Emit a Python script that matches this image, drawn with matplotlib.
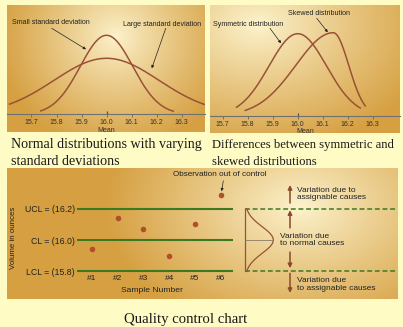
import numpy as np
import matplotlib
matplotlib.use('Agg')
import matplotlib.pyplot as plt
from matplotlib.transforms import blended_transform_factory

plt.rcParams['font.family'] = ['Liberation Sans', 'DejaVu Sans']

# ---------------- data ----------------
mean_ticks = [15.7, 15.8, 15.9, 16.0, 16.1, 16.2, 16.3]

# panel 1: normal distributions (mean, sd, relative peak height, drawn range)
small_mean, small_sd, small_peak = 16.0, 0.105, 79
small_range = (15.737, 16.267)
large_mean, large_sd, large_peak = 16.0, 0.21, 56
large_range = (15.612, 16.394)

# panel 2: symmetric vs skewed (split-normal) distributions
sym_mean, sym_sd, sym_peak = 16.0, 0.115, 82
sym_range = (15.755, 16.25)
skew_mode, skew_sd_left, skew_sd_right, skew_peak = 16.142, 0.15, 0.062, 83
skew_range = (15.79, 16.27)

# panel 3: quality control chart
samples = ['#1', '#2', '#3', '#4', '#5', '#6']
sample_means = [15.94, 16.138, 16.072, 15.898, 16.102, 16.285]
UCL, CL, LCL = 16.2, 16.0, 15.8
limit_labels = ['LCL = (15.8)', 'CL = (16.0)', 'UCL = (16.2)']
bell_sd = 0.085

# ---------------- style ----------------
W, H = 403, 327
BG = '#fffbc4'
LIGHT = np.array([253, 244, 206]) / 255
GOLD = np.array([214, 160, 66]) / 255
CURVE = '#9a5236'
GREEN = '#3b7a22'
DOT = '#b24e2a'
ARROW = '#8b4a2b'
TXT = '#222222'
SERIF = ['Liberation Serif', 'DejaVu Serif']

fig = plt.figure(figsize=(W / 100, H / 100), dpi=100)
fig.patch.set_facecolor(BG)


def rect(l, t, r, b):
    return [l / W, 1 - b / H, (r - l) / W, (b - t) / H]


def gradient_panel(r, cx, cy, rx, ry, power=1.0):
    bg = fig.add_axes(r, zorder=0)
    X, Y = np.meshgrid(np.linspace(0, 1, 200), np.linspace(0, 1, 140))
    d = np.sqrt(((X - cx) / rx) ** 2 + ((Y - cy) / ry) ** 2)
    t = np.clip(d, 0, 1) ** power
    img = LIGHT[None, None, :] * (1 - t[..., None]) + GOLD[None, None, :] * t[..., None]
    bg.imshow(img, aspect='auto', extent=[0, 1, 0, 1], origin='upper')
    bg.axis('off')
    ax = fig.add_axes(r, zorder=1)
    ax.set_facecolor('none')
    return ax


def gauss(x, m, s, peak):
    return peak * np.exp(-0.5 * ((x - m) / s) ** 2)


def style_mean_axis(ax):
    for side in ['top', 'right', 'left']:
        ax.spines[side].set_visible(False)
    ax.spines['bottom'].set_position(('data', 0))
    ax.spines['bottom'].set_color('#707070')
    ax.spines['bottom'].set_linewidth(0.8)
    ax.set_yticks([])
    ax.set_xticks(mean_ticks)
    ax.set_xticklabels([f'{v:.1f}' for v in mean_ticks])
    ax.xaxis.remove_overlapping_locs = False
    ax.set_xticks([16.0], minor=True)
    ax.tick_params(axis='x', which='major', length=2.5, width=0.7, color='#707070',
                   pad=1.0, labelsize=5.0, labelcolor='#333333')
    ax.tick_params(axis='x', which='minor', direction='in', length=2.5, width=0.9,
                   color='#555555')
    ax.set_xlabel('Mean', fontsize=5.0, color='#333333', labelpad=0.4)


arrow_kw = dict(arrowstyle='-|>', color=TXT, lw=0.5, mutation_scale=4,
                shrinkA=0, shrinkB=0)

# ---------------- panel 1 ----------------
ax1 = gradient_panel(rect(7, 5, 205, 132), 0.55, 0.25, 0.6, 0.9, 0.85)
x = np.linspace(*large_range, 300)
ax1.plot(x, gauss(x, large_mean, large_sd, large_peak), color=CURVE, lw=1.1)
x = np.linspace(*small_range, 300)
ax1.plot(x, gauss(x, small_mean, small_sd, small_peak), color=CURVE, lw=1.1)
ax1.set_xlim(15.602, 16.394)
ax1.set_ylim(-17.7, 109.3)
style_mean_axis(ax1)
ax1.text(15.622, 91.6, 'Small standard deviation', fontsize=5.1, color=TXT, va='center')
ax1.annotate('', xy=(15.918, 65), xytext=(15.781, 86), arrowprops=arrow_kw)
ax1.text(16.066, 90, 'Large standard deviation', fontsize=5.1, color=TXT, va='center')
ax1.annotate('', xy=(16.181, 46), xytext=(16.237, 86), arrowprops=arrow_kw)

# ---------------- panel 2 ----------------
ax2 = gradient_panel(rect(210, 5, 400, 133), 0.25, 0.15, 0.95, 1.0, 0.9)
x = np.linspace(*sym_range, 300)
ax2.plot(x, gauss(x, sym_mean, sym_sd, sym_peak), color=CURVE, lw=1.1)
x = np.linspace(*skew_range, 300)
sd = np.where(x < skew_mode, skew_sd_left, skew_sd_right)
ax2.plot(x, skew_peak * np.exp(-0.5 * ((x - skew_mode) / sd) ** 2), color=CURVE, lw=1.1)
ax2.set_xlim(15.649, 16.409)
ax2.set_ylim(-17.3, 110.7)
style_mean_axis(ax2)
ax2.text(15.661, 91.7, 'Symmetric distribution', fontsize=5.1, color=TXT, va='center')
ax2.annotate('', xy=(15.933, 72.4), xytext=(15.889, 87.4), arrowprops=arrow_kw)
ax2.text(15.961, 102.4, 'Skewed distribution', fontsize=5.1, color=TXT, va='center')
ax2.annotate('', xy=(16.12, 83.4), xytext=(16.076, 97.4), arrowprops=arrow_kw)

# captions
fig.text(11 / W, 1 - 148 / H, 'Normal distributions with varying', family=SERIF,
         fontsize=10.1, color='#1a1a1a', va='baseline')
fig.text(11 / W, 1 - 165 / H, 'standard deviations', family=SERIF,
         fontsize=10.1, color='#1a1a1a', va='baseline')
fig.text(212 / W, 1 - 148 / H, 'Differences between symmetric and', family=SERIF,
         fontsize=9.1, color='#1a1a1a', va='baseline')
fig.text(212 / W, 1 - 165 / H, 'skewed distributions', family=SERIF,
         fontsize=9.1, color='#1a1a1a', va='baseline')
fig.text(124 / W, 1 - 323 / H, 'Quality control chart', family=SERIF,
         fontsize=10.6, color='#1a1a1a', va='baseline')

# ---------------- panel 3 ----------------
ax3 = gradient_panel(rect(7, 168, 397, 299), 0.75, 0.3, 0.5, 1.0, 0.9)
ax3.set_xlim(-2.275, 12.806)
ax3.set_ylim(15.6235, 16.4595)
for side in ['top', 'right']:
    ax3.spines[side].set_visible(False)
ax3.spines['bottom'].set_position(('data', LCL))
ax3.spines['bottom'].set_visible(False)
ax3.spines['left'].set_position(('axes', (76.7 - 7) / 390))
ax3.spines['left'].set_visible(False)
pos = np.arange(1, len(samples) + 1)
ax3.set_xticks(pos)
ax3.set_xticklabels(samples)
ax3.set_yticks([LCL, CL, UCL])
ax3.set_yticklabels(limit_labels)
ax3.tick_params(axis='x', length=0, pad=2.4, labelsize=6, labelcolor=TXT)
ax3.tick_params(axis='y', length=0, pad=1.2, labelsize=6.3, labelcolor=TXT)
ax3.set_xlabel('Sample Number', fontsize=6.1, color=TXT)
ax3.xaxis.set_label_coords((152 - 7) / 390, (299 - 290) / 131)
ax3.xaxis.label.set_va('center')
ax3.set_ylabel('Volume in ounces', fontsize=5.7, color=TXT)
ax3.yaxis.set_label_coords((14 - 7) / 390, (299 - 238) / 131)
ax3.yaxis.label.set_va('center')

trans = blended_transform_factory(ax3.transAxes, ax3.transData)
fx = lambda px: (px - 7) / 390

ax3.hlines([UCL, CL, LCL], fx(76.7), fx(233), transform=trans, color=GREEN, lw=1.5)
ax3.plot(pos, sample_means, 'o', color=DOT, ms=4, mec='none', zorder=5)

ax3.text(fx(173.3), 16.415, 'Observation out of control', fontsize=5.9, color=TXT,
         va='center', transform=trans)
ax3.annotate('', xy=(pos[-1], sample_means[-1]), xytext=(fx(223.3), 16.378),
             textcoords=trans, arrowprops=dict(arrowstyle='-|>', color=TXT, lw=0.5,
                                                 mutation_scale=4, shrinkA=0, shrinkB=3))

# right-hand diagram
ax3.hlines([UCL, LCL], fx(245), fx(397), transform=trans, color=GREEN, lw=1.1,
           linestyles=(0, (3.2, 1.8)))
yy = np.linspace(LCL, UCL, 200)
x0, amp = fx(245), 28.3 / 390
ax3.plot(x0 + amp * np.exp(-0.5 * ((yy - CL) / bell_sd) ** 2), yy, color=CURVE, lw=0.9,
         transform=trans)
ax3.plot([x0, x0], [LCL, UCL], color=CURVE, lw=0.9, transform=trans)
ax3.plot([x0, x0 + amp], [CL, CL], color='#8a7a6a', lw=0.6, transform=trans)

ar_kw = dict(arrowstyle='-|>', color=ARROW, lw=1.1, mutation_scale=6, shrinkA=0, shrinkB=0)
ax_x = fx(290)
ax3.annotate('', xy=(ax_x, UCL + 0.151), xytext=(ax_x, UCL + 0.036),
             xycoords=trans, textcoords=trans, arrowprops=ar_kw)
ax3.annotate('', xy=(ax_x, UCL - 0.01), xytext=(ax_x, CL + 0.077),
             xycoords=trans, textcoords=trans, arrowprops=ar_kw)
ax3.annotate('', xy=(ax_x, LCL + 0.02), xytext=(ax_x, CL - 0.077),
             xycoords=trans, textcoords=trans, arrowprops=ar_kw)
ax3.annotate('', xy=(ax_x, LCL - 0.138), xytext=(ax_x, LCL - 0.013),
             xycoords=trans, textcoords=trans, arrowprops=ar_kw)

ax3.text(fx(296.7), UCL + 0.092, 'Variation due to\nassignable causes', fontsize=6,
         color=TXT, va='center', transform=trans, linespacing=1.1)
ax3.text(fx(280), CL, 'Variation due\nto normal causes', fontsize=6,
         color=TXT, va='center', transform=trans, linespacing=1.1)
ax3.text(fx(296.7), LCL - 0.085, 'Variation due\nto assignable causes', fontsize=6,
         color=TXT, va='center', transform=trans, linespacing=1.1)

fig.savefig('out.png', dpi=100, facecolor=BG)
